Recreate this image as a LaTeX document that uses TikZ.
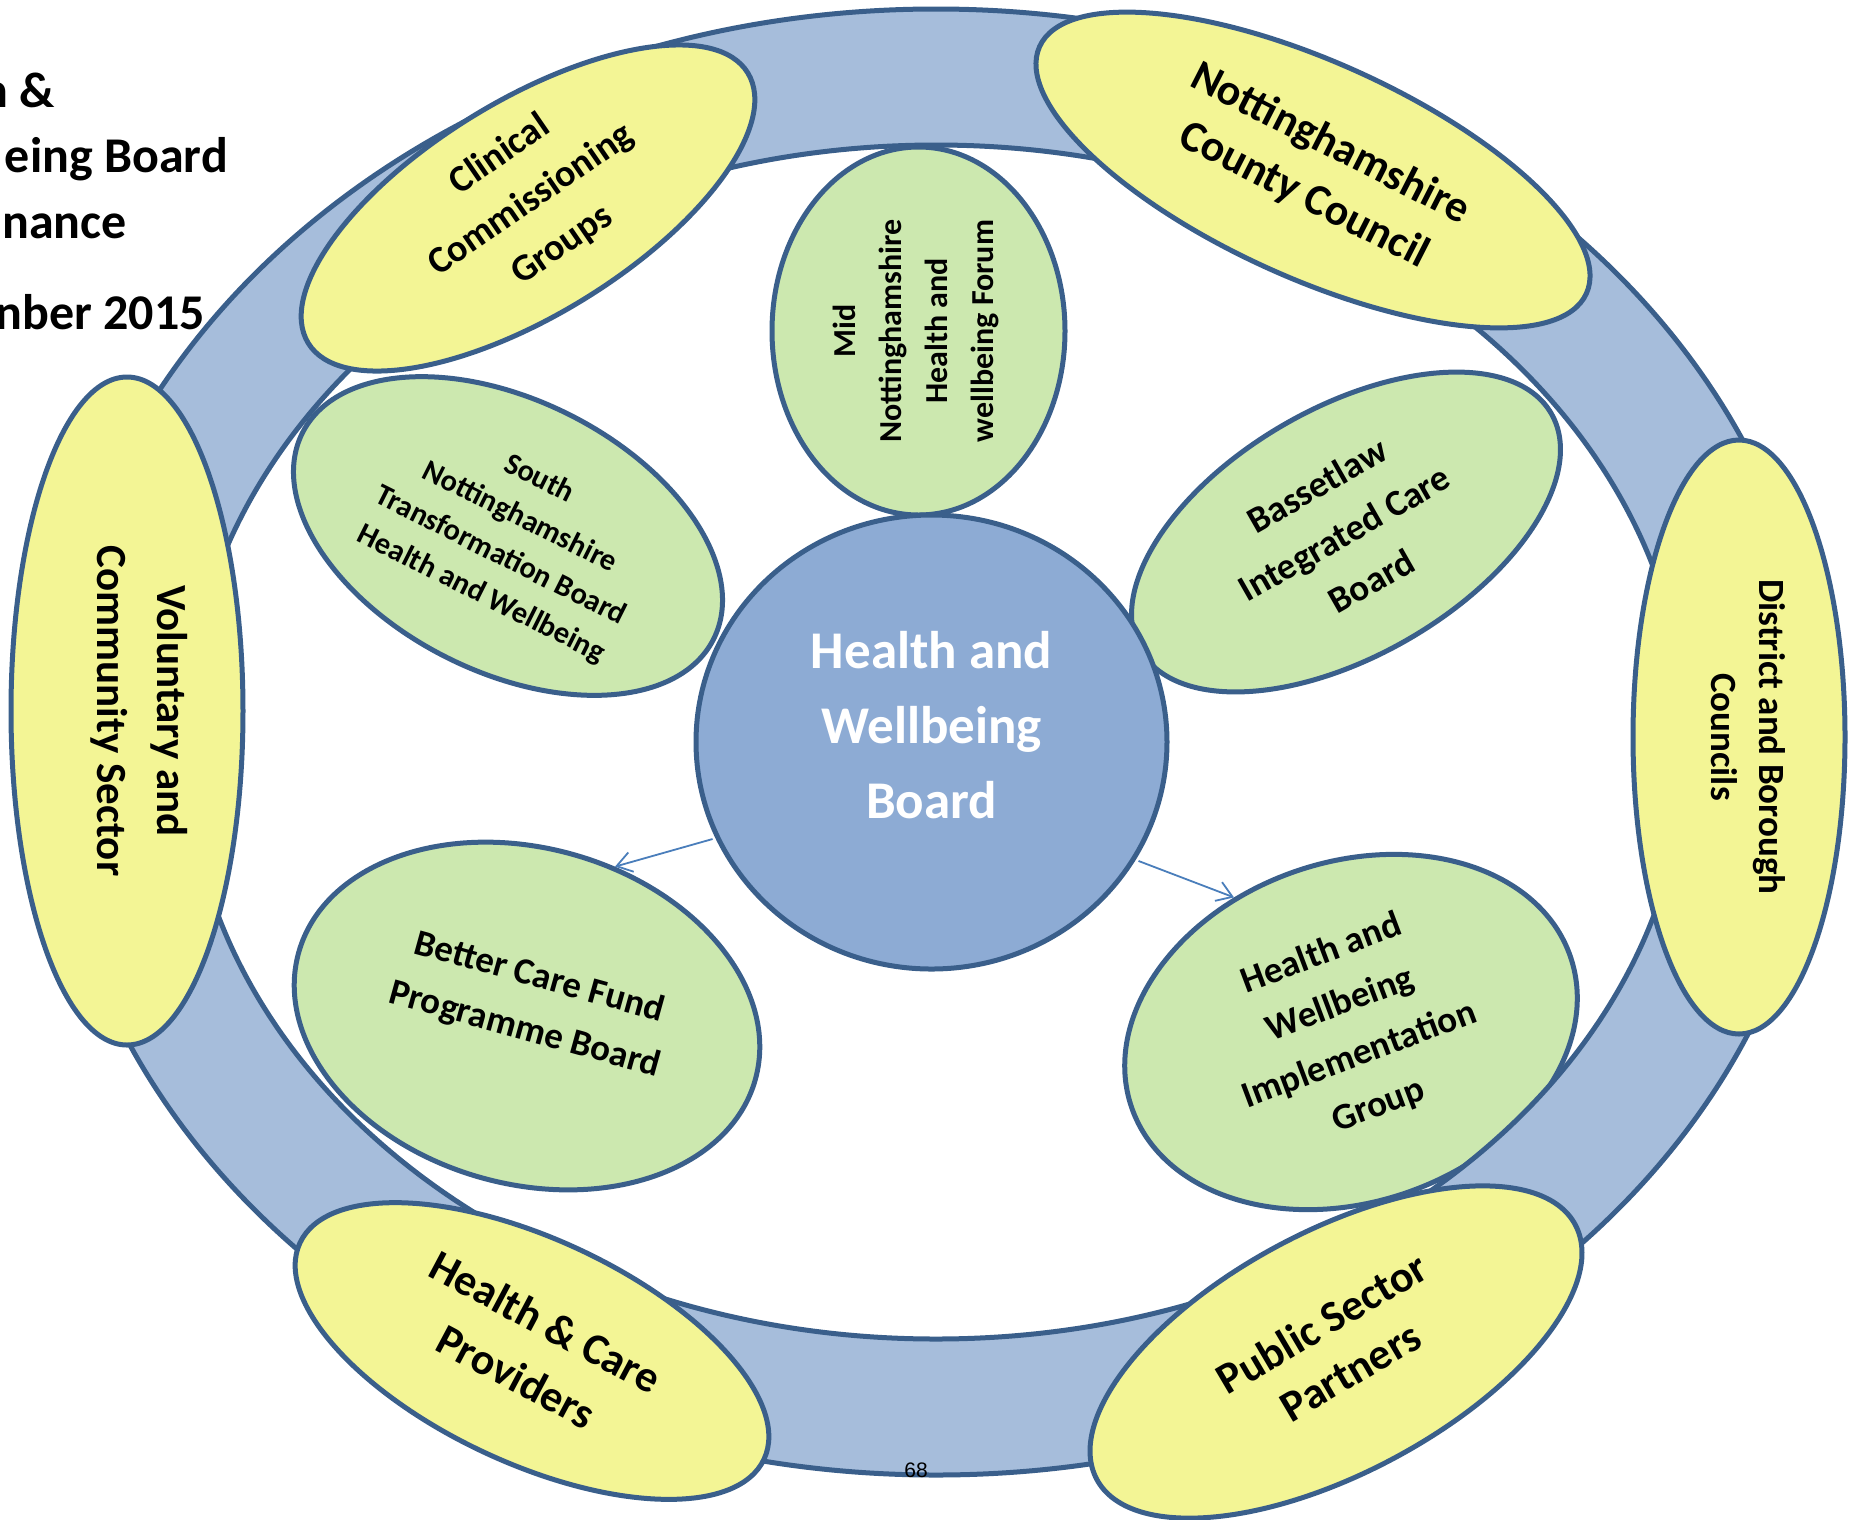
\documentclass[tikz,border=0pt]{standalone}
\usepackage{fontspec}
\setmainfont{Carlito}
\newfontfamily\pagenumfont{Liberation Sans}
\usetikzlibrary{shapes.geometric,arrows.meta}

\definecolor{ringfill}{HTML}{A6BDDB}
\definecolor{edge}{HTML}{3A5F8B}
\definecolor{memberfill}{HTML}{F3F595}
\definecolor{forumfill}{HTML}{CCE8AF}
\definecolor{hubfill}{HTML}{8DABD4}
\definecolor{linkblue}{HTML}{4A7EBB}

\begin{document}
\begin{tikzpicture}[x=1pt,y=-1pt,
  shell/.style={ellipse, draw=edge, line width=5pt, inner sep=0pt},
  member/.style={shell, fill=memberfill},
  forum/.style={shell, fill=forumfill},
  boxtext/.style={align=center, inner sep=0pt, text=black},
  titletext/.style={inner sep=0pt, font=\fontsize{50}{65}\selectfont\bfseries},
  link/.style={draw=linkblue, line width=1.8pt, shorten <=3pt,
    -{Straight Barb[length=15pt,width=20pt,line width=1.8pt]}}]

\useasboundingbox (0,0) rectangle (1849,1519);

% heading, running off the left edge of the page
\node[titletext, anchor=base east] (title1) at (55,107) {h \&};
\node[titletext, anchor=base east] (title2) at (228,172) {eing Board};
\node[titletext, anchor=base east] (title3) at (127,238) {nance};
\node[titletext, anchor=base east] (title4) at (205,329) {nber 2015};

% inner forums and boards
\node[forum, minimum width=460pt, minimum height=272pt, rotate=-26.6] (south) at (508,536) {};
\node[forum, minimum width=293pt, minimum height=368pt] (mid) at (918.5,331) {};
\node[forum, minimum width=474pt, minimum height=248pt, rotate=30] (bas) at (1346,532) {};
\node[forum, minimum width=474pt, minimum height=336pt, rotate=-15.5] (bcf) at (527,1016) {};
\node[forum, minimum width=464pt, minimum height=340pt, rotate=19] (hwig) at (1351,1032) {};

% partnership ring
\coordinate (hub) at (936,742);
\fill[ringfill, even odd rule]
  (hub) ellipse [x radius=885pt, y radius=733pt]
  (hub) ellipse [x radius=750pt, y radius=597pt];
\draw[edge, line width=5pt] (hub) ellipse [x radius=885pt, y radius=733pt];
\draw[edge, line width=5pt] (hub) ellipse [x radius=750pt, y radius=597pt];

\node[inner sep=0pt, font=\pagenumfont\fontsize{21}{25}\selectfont] (pagenum) at (916,1470) {68};

% the board itself
\node[shell, fill=hubfill, minimum width=471pt, minimum height=454pt] (hwb) at (931.5,742) {};

% partner organisations on the ring
\node[member, minimum width=516pt, minimum height=214pt, rotate=31.6] (ccg) at (528,208) {};
\node[member, minimum width=600pt, minimum height=216pt, rotate=-24.3] (ncc) at (1313,170) {};
\node[member, minimum width=232pt, minimum height=668pt] (vol) at (127,711) {};
\node[member, minimum width=212pt, minimum height=594pt] (dist) at (1739,737) {};
\node[member, minimum width=512pt, minimum height=224pt, rotate=-25] (hcp) at (532,1351) {};
\node[member, minimum width=542pt, minimum height=242pt, rotate=28] (psp) at (1336,1352) {};

% labels
\node[boxtext, text=white, font=\fontsize{53}{75}\selectfont\bfseries] (hwbtext) at (931.5,725)
  {Health and\\Wellbeing\\Board};
\node[boxtext, rotate=90, font=\fontsize{32}{46}\selectfont\bfseries] (midtext) at (916,331)
  {Mid\\Nottinghamshire\\Health and\\wellbeing Forum};
\node[boxtext, rotate=-26.6, font=\fontsize{30.5}{43}\selectfont\bfseries] (southtext) at (510,537)
  {South\\Nottinghamshire\\Transformation Board\\Health and Wellbeing};
\node[boxtext, rotate=29.7, font=\fontsize{37}{55}\selectfont\bfseries] (bastext) at (1344,533)
  {Bassetlaw\\Integrated Care\\Board};
\node[boxtext, rotate=-15.5, font=\fontsize{37}{54}\selectfont\bfseries] (bcftext) at (532,1004)
  {Better Care Fund\\Programme Board};
\node[boxtext, rotate=20.6, font=\fontsize{37}{54}\selectfont\bfseries] (hwigtext) at (1350,1030)
  {Health and\\Wellbeing\\Implementation\\Group};
\node[boxtext, rotate=34.5, font=\fontsize{38}{55}\selectfont\bfseries] (ccgtext) at (531,200)
  {Clinical\\Commissioning\\Groups};
\node[boxtext, rotate=-27, font=\fontsize{44}{58}\selectfont\bfseries] (ncctext) at (1317,170)
  {Nottinghamshire\\County Council};
\node[boxtext, rotate=-90, font=\fontsize{43}{60}\selectfont\bfseries] (voltext) at (139,711)
  {Voluntary and\\Community Sector};
\node[boxtext, rotate=-90, font=\fontsize{37}{48}\selectfont\bfseries] (disttext) at (1748,737)
  {District and Borough\\Councils};
\node[boxtext, rotate=-28, font=\fontsize{44}{62}\selectfont\bfseries] (hcptext) at (531,1349)
  {Health \& Care\\Providers};
\node[boxtext, rotate=30.5, font=\fontsize{44}{56}\selectfont\bfseries] (psptext) at (1336,1347)
  {Public Sector\\Partners};

% reporting lines
\draw[link] (hwb.204.7) -- (bcf.75);
\draw[link] (hwb.-30.5) -- (hwig.112);

\end{tikzpicture}
\end{document}
